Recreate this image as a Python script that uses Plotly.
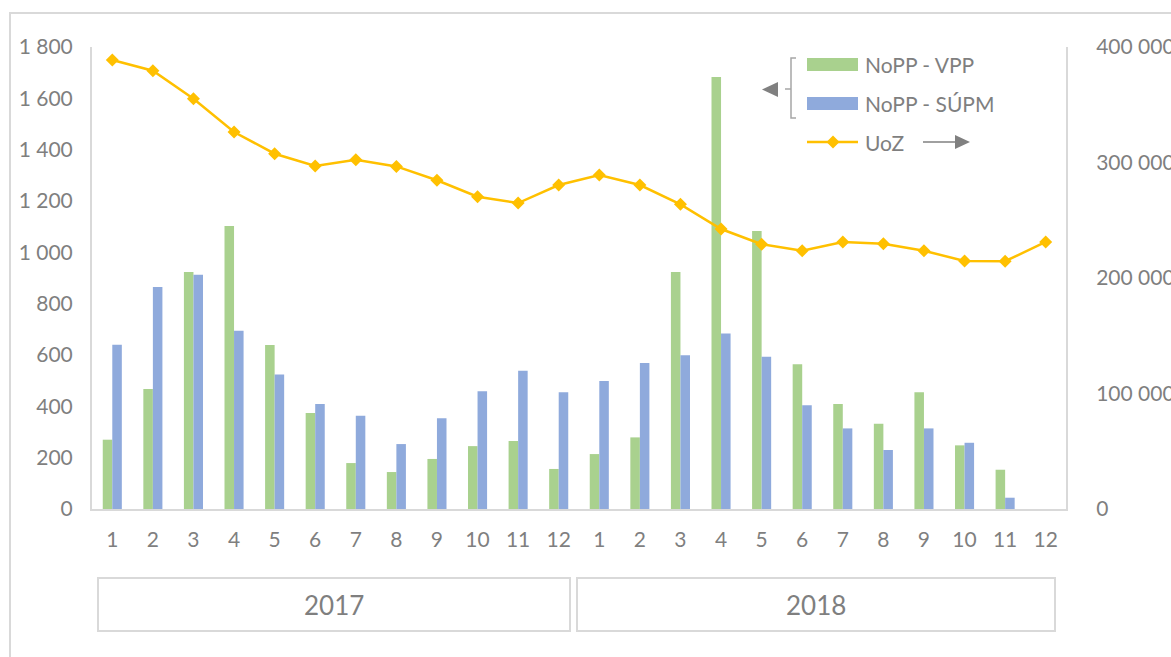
import plotly.graph_objects as go

# ---------------- data ----------------
years = ["2017"] * 12 + ["2018"] * 12
months = [str(m) for m in range(1, 13)] * 2
categories = [f"{y}-{m}" for y, m in zip(years, months)]

nopp_vpp = [270, 468, 923, 1103, 639, 374, 179, 144, 195, 245, 265, 156,
            214, 279, 923, 1683, 1083, 564, 409, 332, 455, 248, 153, None]
nopp_supm = [640, 865, 913, 694, 524, 409, 363, 253, 354, 459, 539, 455,
             499, 569, 599, 684, 593, 404, 314, 230, 314, 258, 44, None]
uoz = [388700, 379500, 355200, 326400, 307600, 297000, 302400, 296600,
       284600, 270400, 264900, 280500, 289200, 280500, 263800, 242400,
       229200, 223600, 231200, 229700, 223600, 214700, 214500, 231200]

left_ticks = [0, 200, 400, 600, 800, 1000, 1200, 1400, 1600, 1800]
right_ticks = [0, 100000, 200000, 300000, 400000]

# ---------------- style ----------------
W, H = 1171, 657
L, R, T, B = 92, 1066, 47, 509
GREEN = "#A9D18E"
BLUE = "#8FAADC"
GOLD = "#FFC000"
TXT = "#7F7F7F"
AX = "#D9D9D9"
FONT = "Lato, Carlito, Open Sans, sans-serif"


def px(x):
    return (x - L) / (R - L)


def py(y):
    return (B - y) / (B - T)


fig = go.Figure()
fig.add_trace(go.Bar(x=categories, y=nopp_vpp, name="NoPP - VPP",
                     marker=dict(color=GREEN, line=dict(width=0)),
                     yaxis="y", showlegend=False))
fig.add_trace(go.Bar(x=categories, y=nopp_supm, name="NoPP - SÚPM",
                     marker=dict(color=BLUE, line=dict(width=0)),
                     yaxis="y", showlegend=False))
fig.add_trace(go.Scatter(x=categories, y=uoz, name="UoZ", mode="lines+markers",
                         line=dict(color=GOLD, width=2.5),
                         marker=dict(symbol="diamond", size=10, color=GOLD),
                         yaxis="y2", showlegend=False))

shapes = []
annotations = []

# outer chart frame
shapes.append(dict(type="rect", xref="paper", yref="paper",
                   x0=px(10), x1=px(1300), y0=py(13), y1=py(800),
                   line=dict(color="#D9D9D9", width=2), layer="below"))

# year boxes
for label, x0, x1 in [("2017", 98, 570), ("2018", 577, 1055)]:
    shapes.append(dict(type="rect", xref="paper", yref="paper",
                       x0=px(x0), x1=px(x1), y0=py(578), y1=py(631),
                       line=dict(color="#D9D9D9", width=2)))
    annotations.append(dict(xref="paper", yref="paper", x=px((x0 + x1) / 2), y=py(605),
                            text=label, showarrow=False,
                            font=dict(size=26, color=TXT, family=FONT),
                            xanchor="center", yanchor="middle"))

# manual legend
shapes.append(dict(type="rect", xref="paper", yref="paper",
                   x0=px(807), x1=px(858), y0=py(58), y1=py(71),
                   fillcolor=GREEN, line=dict(width=0)))
shapes.append(dict(type="rect", xref="paper", yref="paper",
                   x0=px(807), x1=px(858), y0=py(97), y1=py(110),
                   fillcolor=BLUE, line=dict(width=0)))
shapes.append(dict(type="line", xref="paper", yref="paper",
                   x0=px(807), x1=px(858), y0=py(142), y1=py(142),
                   line=dict(color=GOLD, width=2.5)))
cx, cy, d = 833, 142, 6.5
shapes.append(dict(type="path", xref="paper", yref="paper",
                   path=f"M {px(cx - d)} {py(cy)} L {px(cx)} {py(cy - d)} L {px(cx + d)} {py(cy)} L {px(cx)} {py(cy + d)} Z",
                   fillcolor=GOLD, line=dict(width=0)))
for text, yy in [("NoPP - VPP", 64), ("NoPP - SÚPM", 103), ("UoZ", 142)]:
    annotations.append(dict(xref="paper", yref="paper", x=px(863), y=py(yy),
                            text=text, showarrow=False,
                            font=dict(size=21, color=TXT, family=FONT),
                            xanchor="left", yanchor="middle"))
# right arrow (UoZ -> right axis)
shapes.append(dict(type="line", xref="paper", yref="paper",
                   x0=px(923), x1=px(957), y0=py(142), y1=py(142),
                   line=dict(color="#808080", width=1.5)))
shapes.append(dict(type="path", xref="paper", yref="paper",
                   path=f"M {px(955)} {py(135)} L {px(970)} {py(142)} L {px(955)} {py(149)} Z",
                   fillcolor="#808080", line=dict(width=0)))
# left arrow + bracket (bars -> left axis)
shapes.append(dict(type="path", xref="paper", yref="paper",
                   path=f"M {px(778)} {py(82)} L {px(762)} {py(89.5)} L {px(778)} {py(97)} Z",
                   fillcolor="#808080", line=dict(width=0)))
shapes.append(dict(type="path", xref="paper", yref="paper",
                   path=f"M {px(796)} {py(58)} L {px(791)} {py(58)} L {px(791)} {py(118)} L {px(796)} {py(118)}",
                   line=dict(color="#A6A6A6", width=1.5)))
shapes.append(dict(type="line", xref="paper", yref="paper",
                   x0=px(785), x1=px(791), y0=py(89), y1=py(89),
                   line=dict(color="#A6A6A6", width=1.5)))

fig.update_layout(
    width=W, height=H,
    margin=dict(l=L, r=W - R, t=T, b=H - B, autoexpand=False),
    paper_bgcolor="white", plot_bgcolor="white",
    barmode="group", bargap=0.53, bargroupgap=0,
    separators=", ",
    font=dict(family=FONT, color=TXT, size=21),
    xaxis=dict(type="category", categoryorder="array", categoryarray=categories,
               range=[-0.5, len(categories) - 0.5],
               tickvals=categories, ticktext=months,
               showline=True, linecolor=AX, linewidth=2, showgrid=False,
               ticks="", tickfont=dict(size=21, color=TXT, family=FONT),
               ticklabelstandoff=11, fixedrange=True),
    yaxis=dict(range=[0, 1800], tickvals=left_ticks, tickformat=",d",
               showline=True, linecolor=AX, linewidth=2, showgrid=False,
               zeroline=False, ticks="", ticklabelstandoff=13,
               tickfont=dict(size=21, color=TXT, family=FONT)),
    yaxis2=dict(range=[0, 400000], tickvals=right_ticks, tickformat=",d",
                overlaying="y", side="right", automargin=False,
                showline=True, linecolor=AX, linewidth=2, showgrid=False,
                zeroline=False, ticks="", ticklabelstandoff=24,
                tickfont=dict(size=21, color=TXT, family=FONT)),
    shapes=shapes, annotations=annotations,
)

fig.write_html(
    "out.html",
    config={"displayModeBar": False},
    post_script="document.body.style.margin='0';document.body.style.overflow='hidden';",
)
